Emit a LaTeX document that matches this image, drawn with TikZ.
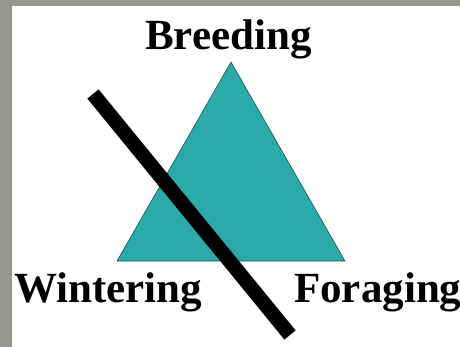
\documentclass[tikz,border=0pt]{standalone}
\usepackage{fontspec}
\setmainfont{Liberation Serif}
\definecolor{bggray}{RGB}{150,153,145}
\definecolor{teal2}{RGB}{42,170,168}
\definecolor{edge}{RGB}{40,80,80}
\tikzset{
  lbl/.style={inner sep=0pt, font=\fontsize{43}{51}\selectfont\bfseries},
  tri/.style={fill=teal2, draw=edge, line width=0.6pt},
  bar/.style={line width=14.5pt, black}
}
\begin{document}
\begin{tikzpicture}[x=1pt,y=-1pt]
\useasboundingbox (0,0) rectangle (460,347);
\fill[bggray] (0,0) rectangle (460,347);
\fill[white] (12,6) rectangle (460,347);
\coordinate (apex) at (231,62);
\coordinate (bl) at (117,261);
\coordinate (br) at (345,261);
\path[tri] (apex) -- (bl) -- (br) -- cycle;
\node[lbl, anchor=base] (breeding) at (228.5,50) {Breeding};
\node[lbl, anchor=base west] (wintering) at (14,302) {Wintering};
\node[lbl, anchor=base west] (foraging) at (294,302) {Foraging};
\coordinate (barA) at (93,94);
\coordinate (barB) at (290,335);
\draw[bar] (barA) -- (barB);
\end{tikzpicture}
\end{document}
